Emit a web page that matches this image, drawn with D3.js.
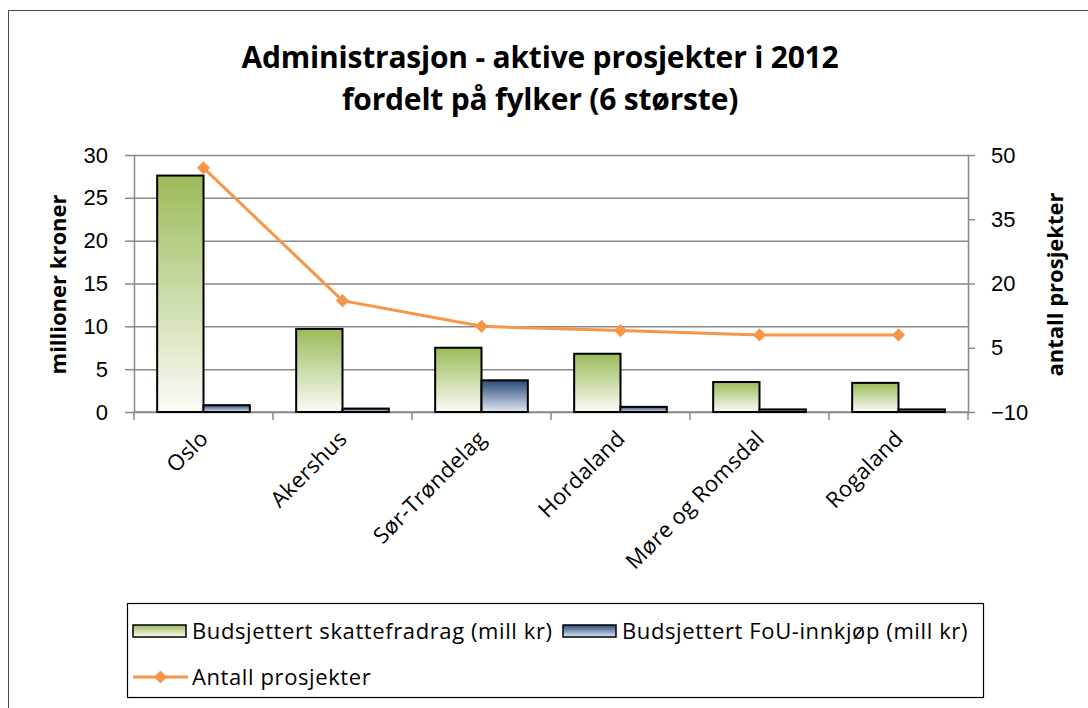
<!DOCTYPE html>
<html>
<head>
<meta charset="utf-8">
<script src="https://cdn.jsdelivr.net/npm/d3@7"></script>
<style>
  html, body { margin: 0; padding: 0; background: #fff; }
  svg { display: block; font-family: "Open Sans", sans-serif; }
</style>
</head>
<body>
<script>
  /* globals d3 */
  // data
  let counties = ['Oslo', 'Akershus', 'Sør-Trøndelag', 'Hordaland', 'Møre og Romsdal', 'Rogaland']
  let skattefradrag = [27.6, 9.7, 7.5, 6.8, 3.5, 3.4]
  let fouInnkjop = [0.8, 0.4, 3.7, 0.6, 0.3, 0.3]
  let antallProsjekter = [47, 16, 10, 9, 8, 8]
  let leftTicks = [0, 5, 10, 15, 20, 25, 30]
  let rightTicks = [-10, 5, 20, 35, 50]
  let titleLines = ['Administrasjon - aktive prosjekter i 2012', 'fordelt på fylker (6 største)']
  let seriesNames = ['Budsjettert skattefradrag (mill kr)', 'Budsjettert FoU-innkjøp (mill kr)', 'Antall prosjekter']

  let width = 1088, height = 708
  let plot = { left: 134, right: 968, top: 155, bottom: 412 }
  let gridColor = '#898989'
  let orange = '#f79646'
  let fontSize = 22

  let svg = d3.select('body').append('svg')
    .attr('width', width)
    .attr('height', height)

  let defs = svg.append('defs')
  let grad = (id, top, bottom) => {
    let g = defs.append('linearGradient').attr('id', id)
      .attr('x1', 0).attr('y1', 0).attr('x2', 0).attr('y2', 1)
    g.append('stop').attr('offset', '0%').attr('stop-color', top)
    g.append('stop').attr('offset', '100%').attr('stop-color', bottom)
  }
  grad('gGreen', '#9bbb59', '#fbfcf8')
  grad('gBlue', '#2a4a78', '#dfe8f4')

  // chart frame (right/bottom edge run off the picture)
  svg.append('rect')
    .attr('x', 8.5).attr('y', 10.5)
    .attr('width', 1100).attr('height', 720)
    .attr('fill', 'none').attr('stroke', '#4a4a4a').attr('stroke-width', 1)

  // title
  svg.append('text')
    .attr('x', 540).attr('y', 68)
    .attr('text-anchor', 'middle')
    .attr('font-weight', 'bold').attr('font-size', 30)
    .attr('letter-spacing', -0.2)
    .selectAll('tspan')
    .data(titleLines)
    .join('tspan')
    .attr('x', 540)
    .attr('dy', (d, i) => i ? 42 : 0)
    .text(d => d)

  let x = d3.scaleBand().domain(counties)
    .range([plot.left, plot.right])
    .paddingInner(1 / 3).paddingOuter(1 / 6)
  let xs = d3.scaleBand().domain([0, 1]).range([0, x.bandwidth()])
  let yL = d3.scaleLinear().domain([0, 30]).range([plot.bottom, plot.top])
  let yR = d3.scaleLinear().domain([-10, 50]).range([plot.bottom, plot.top])

  // gridlines
  svg.append('g')
    .attr('transform', `translate(${plot.left},0)`)
    .call(d3.axisLeft(yL).tickValues(leftTicks).tickSize(-(plot.right - plot.left)).tickFormat(''))
    .call(g => g.select('.domain').remove())
    .call(g => g.selectAll('line').attr('stroke', gridColor).attr('stroke-width', 1.5))

  // left axis
  svg.append('g')
    .attr('transform', `translate(${plot.left},0)`)
    .call(d3.axisLeft(yL).tickValues(leftTicks).tickSizeInner(9).tickSizeOuter(0).tickPadding(17))
    .call(g => g.selectAll('line, .domain').attr('stroke', gridColor).attr('stroke-width', 1.5))
    .call(g => g.selectAll('text').attr('font-size', fontSize).attr('fill', '#000').attr('font-family', null))

  // right axis
  svg.append('g')
    .attr('transform', `translate(${plot.right},0)`)
    .call(d3.axisRight(yR).tickValues(rightTicks).tickSizeInner(7).tickSizeOuter(0).tickPadding(16))
    .call(g => g.selectAll('line, .domain').attr('stroke', gridColor).attr('stroke-width', 1.5))
    .call(g => g.selectAll('text').attr('font-size', fontSize).attr('fill', '#000').attr('font-family', null))

  // bottom axis: line and category boundary ticks
  let bottomAxis = svg.append('g')
  bottomAxis.append('line')
    .attr('x1', plot.left).attr('x2', plot.right)
    .attr('y1', plot.bottom).attr('y2', plot.bottom)
    .attr('stroke', gridColor).attr('stroke-width', 1.5)
  bottomAxis.selectAll('line.tick')
    .data(d3.range(counties.length + 1))
    .join('line')
    .attr('class', 'tick')
    .attr('x1', i => plot.left + i * x.step()).attr('x2', i => plot.left + i * x.step())
    .attr('y1', plot.bottom).attr('y2', plot.bottom + 8)
    .attr('stroke', gridColor).attr('stroke-width', 1.5)
  bottomAxis.selectAll('text')
    .data(counties)
    .join('text')
    .attr('transform', d => `translate(${x(d) + x.bandwidth() / 2 + 6},${plot.bottom + 28}) rotate(-45)`)
    .attr('text-anchor', 'end')
    .attr('font-size', fontSize)
    .attr('letter-spacing', 0.3)
    .text(d => d)

  // axis titles
  svg.append('text')
    .attr('transform', `translate(66,${(plot.top + plot.bottom) / 2 + 1}) rotate(-90)`)
    .attr('text-anchor', 'middle')
    .attr('font-weight', 'bold').attr('font-size', fontSize)
    .text('millioner kroner')
  svg.append('text')
    .attr('transform', `translate(1063,${(plot.top + plot.bottom) / 2 + 1}) rotate(-90)`)
    .attr('text-anchor', 'middle')
    .attr('font-weight', 'bold').attr('font-size', fontSize)
    .text('antall prosjekter')

  // bars
  let groups = svg.append('g').selectAll('g')
    .data(counties)
    .join('g')
    .attr('transform', d => `translate(${x(d)},0)`)
  groups.append('rect')
    .attr('x', xs(0)).attr('width', xs.bandwidth())
    .attr('y', (d, i) => yL(skattefradrag[i]))
    .attr('height', (d, i) => yL(0) - yL(skattefradrag[i]))
    .attr('fill', 'url(#gGreen)').attr('stroke', '#000').attr('stroke-width', 2)
  groups.append('rect')
    .attr('x', xs(1)).attr('width', xs.bandwidth())
    .attr('y', (d, i) => yL(fouInnkjop[i]))
    .attr('height', (d, i) => yL(0) - yL(fouInnkjop[i]))
    .attr('fill', 'url(#gBlue)').attr('stroke', '#000').attr('stroke-width', 2)

  // line on the right axis
  let diamond = d3.symbol().type(d3.symbolDiamond2).size(110)
  let cx = d => x(d) + x.bandwidth() / 2
  svg.append('path')
    .datum(counties)
    .attr('d', d3.line().x(cx).y((d, i) => yR(antallProsjekter[i])))
    .attr('fill', 'none').attr('stroke', orange).attr('stroke-width', 3)
  svg.append('g').selectAll('path')
    .data(counties)
    .join('path')
    .attr('transform', (d, i) => `translate(${cx(d)},${yR(antallProsjekter[i])})`)
    .attr('d', diamond)
    .attr('fill', orange)

  // legend
  let legend = svg.append('g')
  legend.append('rect')
    .attr('x', 127.5).attr('y', 603.5).attr('width', 856).attr('height', 94)
    .attr('fill', '#fff').attr('stroke', '#000').attr('stroke-width', 1.2)
  let legendItems = [
    { name: seriesNames[0], kind: 'bar', fill: 'url(#gGreen)', x: 133, y: 631 },
    { name: seriesNames[1], kind: 'bar', fill: 'url(#gBlue)', x: 563, y: 631 },
    { name: seriesNames[2], kind: 'line', x: 133, y: 677 }
  ]
  let item = legend.selectAll('g')
    .data(legendItems)
    .join('g')
    .attr('transform', d => `translate(${d.x},${d.y})`)
  item.filter(d => d.kind == 'bar').append('rect')
    .attr('x', 0).attr('y', -6).attr('width', 53).attr('height', 12)
    .attr('fill', d => d.fill).attr('stroke', '#000').attr('stroke-width', 1.5)
  item.filter(d => d.kind == 'line').append('line')
    .attr('x1', 0).attr('x2', 55).attr('y1', 0).attr('y2', 0)
    .attr('stroke', orange).attr('stroke-width', 3)
  item.filter(d => d.kind == 'line').append('path')
    .attr('transform', 'translate(27.5,0)')
    .attr('d', diamond)
    .attr('fill', orange)
  item.append('text')
    .attr('x', 59).attr('y', 0)
    .attr('dy', '0.35em')
    .attr('font-size', fontSize)
    .attr('letter-spacing', 0.6)
    .text(d => d.name)
</script>
</body>
</html>
